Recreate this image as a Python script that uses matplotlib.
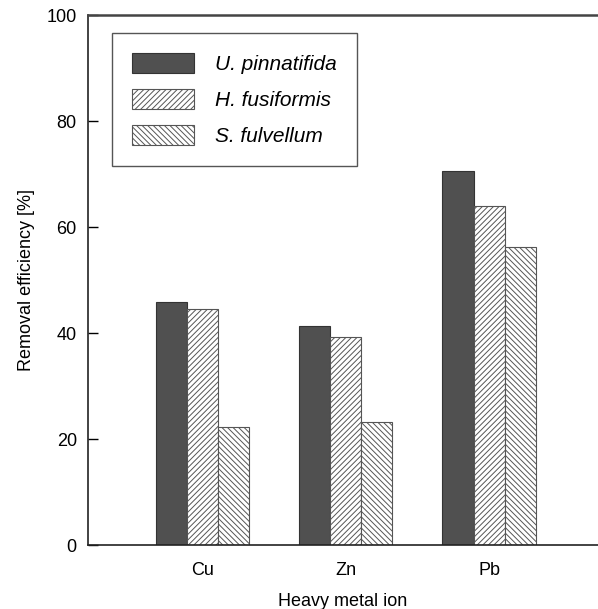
import matplotlib
matplotlib.use('Agg')
import matplotlib.pyplot as plt
import numpy as np

plt.rcParams['font.family'] = ['Liberation Sans', 'DejaVu Sans']
plt.rcParams['hatch.linewidth'] = 0.7
plt.rcParams['hatch.color'] = '#666666'

# 重金属离子及三种海藻的去除率
ions = ['Cu', 'Zn', 'Pb']
species = ['U. pinnatifida', 'H. fusiformis', 'S. fulvellum']
u_pinnatifida = [45.8, 41.3, 70.6]
h_fusiformis = [44.5, 39.2, 64.0]
s_fulvellum = [22.3, 23.2, 56.2]

fig = plt.figure(figsize=(5.98, 6.09), dpi=100)
ax = fig.add_axes([0.147, 0.105, 0.853, 0.870])

x = np.arange(len(ions))
w = 0.217
ax.bar(x - w, u_pinnatifida, w, color='#505050', edgecolor='#333333',
       linewidth=0.8, label=species[0])
ax.bar(x, h_fusiformis, w, color='white', edgecolor='#555555',
       linewidth=0.8, hatch='//////', label=species[1])
ax.bar(x + w, s_fulvellum, w, color='white', edgecolor='#555555',
       linewidth=0.8, hatch='\\\\\\\\\\\\', label=species[2])

ax.set_xlim(-0.80, 2.76)
ax.set_ylim(0, 100)
ax.set_yticks([0, 20, 40, 60, 80, 100])
ax.set_xticks(x)
ax.set_xticklabels(ions)
ax.tick_params(axis='y', direction='in', length=7, width=1, labelsize=13, pad=8)
ax.tick_params(axis='x', length=0, labelsize=13, pad=12)

ax.set_ylabel('Removal efficiency [%]', fontsize=13, labelpad=8)
ax.set_xlabel('Heavy metal ion', fontsize=13, labelpad=10)

for s in ['left', 'bottom']:
    ax.spines[s].set_linewidth(1.2)
    ax.spines[s].set_color('#222222')
ax.spines['top'].set_linewidth(1.8)
ax.spines['top'].set_color('#444444')
ax.spines['right'].set_linewidth(0.6)
ax.spines['right'].set_color('#cccccc')

# 图例
leg = ax.legend(loc='upper left', bbox_to_anchor=(0.047, 0.966), borderaxespad=0,
                fancybox=False, edgecolor='#555555', framealpha=1,
                handlelength=3.0, handleheight=1.1, handletextpad=1.0,
                borderpad=0.95, labelspacing=0.72,
                prop={'style': 'italic', 'size': 15})
leg.get_frame().set_linewidth(1.0)

fig.savefig('out.png', dpi=100)
